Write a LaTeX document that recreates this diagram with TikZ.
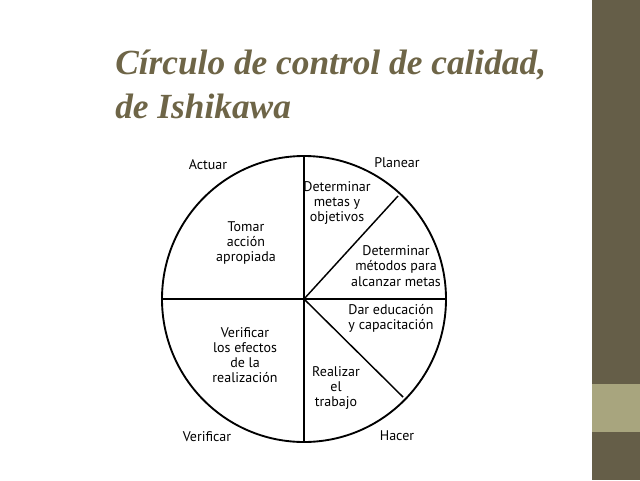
\documentclass[tikz,border=0pt]{standalone}
\usepackage{fontspec}
\setmainfont{Liberation Serif}
\newfontfamily\lab{PT Sans}
\begin{document}
\begin{tikzpicture}[x=0.75pt,y=-0.75pt,
  lbl/.style={font=\lab\fontsize{10.5}{11.4}\selectfont,align=center,inner sep=0pt},
  ttl/.style={font=\fontsize{26.5}{28}\selectfont\bfseries\itshape,anchor=base west,inner sep=0pt}]
\definecolor{olivedk}{HTML}{655E48}
\definecolor{olivelt}{HTML}{A8A57E}
\definecolor{titlec}{HTML}{6E6547}
\useasboundingbox (0,0) rectangle (640,480);
\fill[white] (0,0) rectangle (640,480);
\fill[olivedk] (592,0) rectangle (640,480);
\fill[olivelt] (592,384) rectangle (640,432);
\node[ttl,text=titlec] (t1) at (115,74) {Círculo de control de calidad,};
\node[ttl,text=titlec] (t2) at (115,118) {de Ishikawa};
\coordinate (c) at (304,299);
\draw[line width=1.4pt] (c) circle[x radius=142,y radius=143];
\coordinate (top) at (304,156);
\coordinate (bot) at (304,442);
\coordinate (lft) at (162,299);
\coordinate (rgt) at (446,299);
\coordinate (ur) at (398,196);
\coordinate (lr) at (403,397);
\draw[line width=1.1pt] (top) -- (bot);
\draw[line width=1.1pt] (lft) -- (c) -- (rgt);
\draw[line width=1.1pt] (c) -- (ur);
\draw[line width=1.1pt] (c) -- (lr);
\node[lbl] (a) at (208,165) {Actuar};
\node[lbl] (p) at (397,163) {Planear};
\node[lbl] (v) at (207,437) {Verificar};
\node[lbl] (h) at (397,436) {Hacer};
\node[lbl] (n1) at (337,203) {Determinar\\metas y\\objetivos};
\node[lbl] (n2) at (246,243) {Tomar\\acción\\apropiada};
\node[lbl] (n3) at (396,266) {Determinar\\métodos para\\alcanzar metas};
\node[lbl] (n4) at (391,318) {Dar educación\\y capacitación};
\node[lbl] (n5) at (245,355) {Verificar\\los efectos\\de la\\realización};
\node[lbl] (n6) at (336,388) {Realizar\\el\\trabajo};
\end{tikzpicture}
\end{document}
